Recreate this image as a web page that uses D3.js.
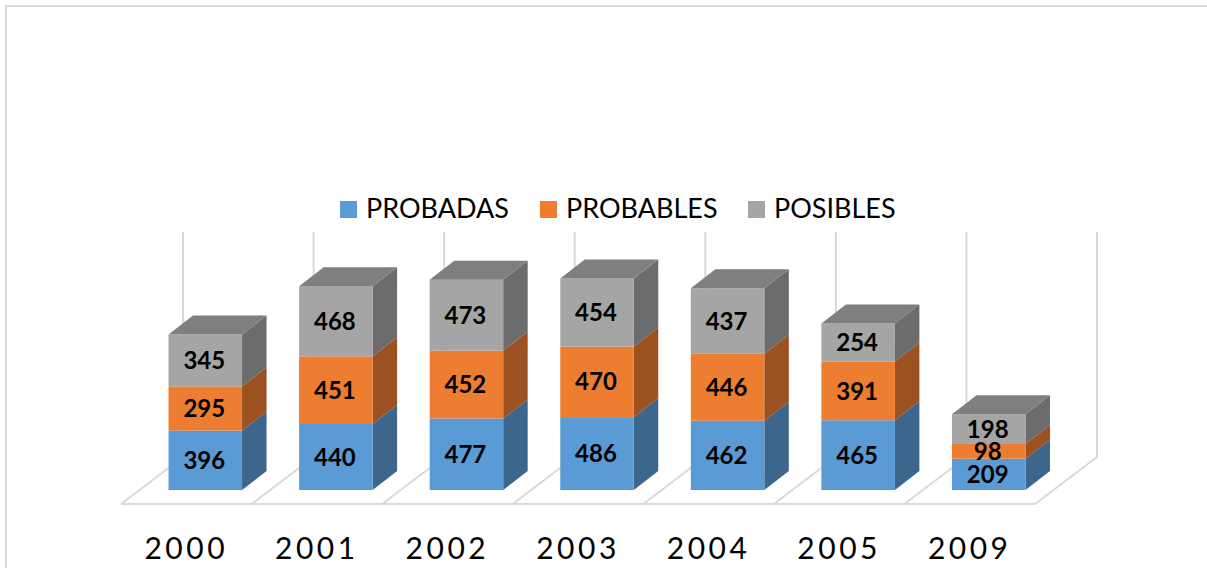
<!DOCTYPE html>
<html>
<head>
<meta charset="utf-8">
<script src="https://cdn.jsdelivr.net/npm/d3@7"></script>
<style>
  html, body { margin: 0; padding: 0; background: #fff; overflow: hidden; }
  text { font-family: Lato, "Open Sans", sans-serif; fill: #000; }
</style>
</head>
<body>
<div id="chart"></div>
<script>
const years = ["2000", "2001", "2002", "2003", "2004", "2005", "2009"];
const seriesNames = ["PROBADAS", "PROBABLES", "POSIBLES"];
const probadas = [396, 440, 477, 486, 462, 465, 209];
const probables = [295, 451, 452, 470, 446, 391, 98];
const posibles = [345, 468, 473, 454, 437, 254, 198];

const frontColor = ["#5b9bd5", "#ed7d31", "#a5a5a5"];
const sideColor = ["#3c668b", "#9b5220", "#6c6c6c"];
const topColor = "#7f7f7f";
const gridColor = "#d9d9d9";

const svg = d3.select("#chart").append("svg").attr("width", 1207).attr("height", 568);

// outer frame of the chart, only left and top are in the picture
svg.append("path")
  .attr("d", "M6,568V6H1207")
  .attr("fill", "none")
  .attr("stroke", gridColor)
  .attr("stroke-width", 2);

// floor: front edge, and how far the back wall is shifted from it
const floorLeft = 121, floorRight = 1035, floorFront = 504;
const wallDx = 62, wallDy = -47;
// bars sit part way in the floor, their own depth is smaller
const barShiftX = 19, barBase = 490;
const depthX = 24.5, depthY = -19;

const floorX = d3.scaleBand().domain(years).range([floorLeft, floorRight]);
const barX = d3.scaleBand().domain(years)
  .range([floorLeft + barShiftX, floorRight + barShiftX])
  .paddingInner(0.437).paddingOuter(0.2185);
const y = d3.scaleLinear().domain([0, 1500]).range([barBase, barBase - 225]);
const wallY = d3.scaleLinear().domain([0, 1500]).range([floorFront + wallDy, floorFront + wallDy - 225]);

const edges = years.map(d => floorX(d)).concat([floorRight]);
const grid = svg.append("g")
  .attr("fill", "none")
  .attr("stroke", gridColor)
  .attr("stroke-width", 2);

edges.forEach(function (ex) {
  grid.append("path")
    .attr("d", `M${ex},${floorFront}L${ex + wallDx},${wallY(0)}L${ex + wallDx},${wallY(1500)}`);
});
grid.append("line")
  .attr("x1", floorLeft).attr("x2", floorRight)
  .attr("y1", floorFront).attr("y2", floorFront);

// stack the three series
const rows = years.map((year, i) => ({
  year: year,
  PROBADAS: probadas[i],
  PROBABLES: probables[i],
  POSIBLES: posibles[i],
}));
const layers = d3.stack().keys(seriesNames)(rows);

const bars = svg.append("g");
const labels = svg.append("g");
layers.forEach(function (layer, s) {
  layer.forEach(function (d) {
    const x0 = barX(d.data.year), x1 = x0 + barX.bandwidth();
    const y0 = y(d[0]), y1 = y(d[1]);

    bars.append("path")
      .attr("fill", sideColor[s])
      .attr("d", `M${x1},${y0}L${x1 + depthX},${y0 + depthY}L${x1 + depthX},${y1 + depthY}L${x1},${y1}Z`);
    bars.append("rect")
      .attr("x", x0).attr("y", y1)
      .attr("width", x1 - x0).attr("height", y0 - y1)
      .attr("fill", frontColor[s]);

    // top face only on the last series
    if (s === layers.length - 1) {
      bars.append("path")
        .attr("fill", topColor)
        .attr("d", `M${x0},${y1}L${x0 + depthX},${y1 + depthY}L${x1 + depthX},${y1 + depthY}L${x1},${y1}Z`);
    }

    // labels go in their own group so the next segment does not cover them
    labels.append("text")
      .attr("x", (x0 + x1) / 2 - 1)
      .attr("y", (y0 + y1) / 2)
      .attr("dy", "0.36em")
      .attr("text-anchor", "middle")
      .style("font-size", "24px")
      .style("font-weight", "700")
      .text(d[1] - d[0]);
  });
});

// category labels
svg.append("g").selectAll("text")
  .data(years)
  .enter()
  .append("text")
  .attr("x", d => floorX(d) + floorX.bandwidth() / 2)
  .attr("y", 559)
  .attr("text-anchor", "middle")
  .style("font-size", "30px")
  .style("letter-spacing", "3.5px")
  .text(d => d);

// legend
const legendX = [340, 540, 748];
const legend = svg.append("g");
seriesNames.forEach(function (name, i) {
  legend.append("rect")
    .attr("x", legendX[i]).attr("y", 201)
    .attr("width", 17).attr("height", 17)
    .attr("fill", frontColor[i]);
  legend.append("text")
    .attr("x", legendX[i] + 26)
    .attr("y", 218)
    .style("font-size", "27px")
    .text(name);
});
</script>
</body>
</html>
